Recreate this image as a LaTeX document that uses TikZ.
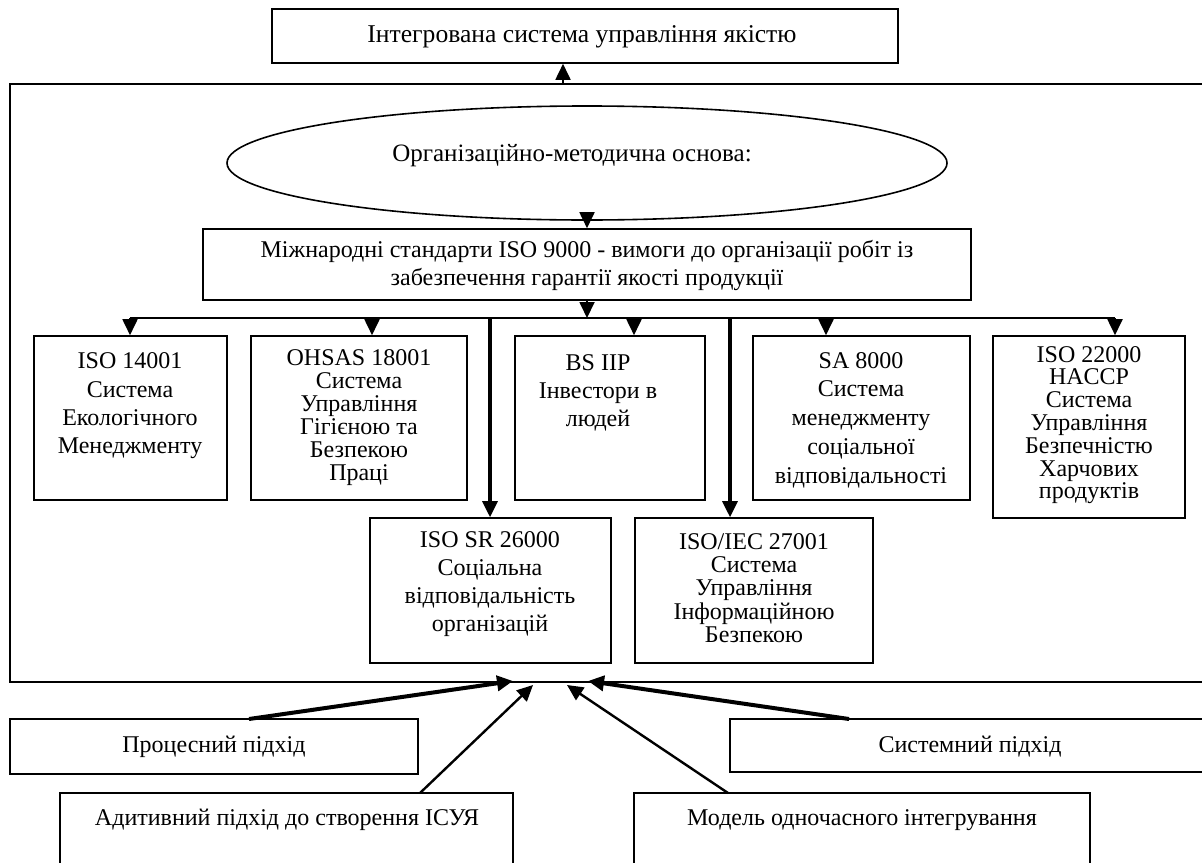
\documentclass[tikz,border=0pt]{standalone}
\usepackage{fontspec}
\setmainfont{Liberation Serif}
\usetikzlibrary{arrows.meta,shapes.geometric}
\newcommand{\fs}[1]{\fontsize{12}{#1}\selectfont\lineskiplimit=-30pt\relax}
\tikzset{
  bxs/.style={draw, line width=0.8pt, inner sep=0pt},
  txtbase/.style={align=center, inner sep=0pt},
  arr/.style={line width=0.9pt, -{Triangle[length=8pt,width=7.5pt]}},
  arrthick/.style={line width=2pt, -{Triangle[length=8pt,width=7.5pt]}},
  arrmid/.style={line width=1.2pt, -{Triangle[length=8pt,width=7.5pt]}},
  vline/.style={line width=1.6pt, -{Triangle[length=8pt,width=7.5pt]}},
}
\newcommand{\mkbox}[5]{\node[bxs, minimum width={(#4-#2)*0.5pt}, minimum height={(#5-#3)*0.5pt}] (#1) at ({(#2+#4)/2},{(#3+#5)/2}) {};}
\begin{document}
\begin{tikzpicture}[x=0.5pt,y=-0.5pt]
\useasboundingbox (0,0) rectangle (1202,862);
% boxes
\mkbox{top}{272}{9}{898}{63}
\mkbox{outer}{10}{84}{1220}{682}
\node[draw, ellipse, line width=0.8pt, minimum width=360pt, minimum height=57pt, inner sep=0pt] (ell) at (587,163) {};
\mkbox{iso9000}{203}{229}{971}{300}
\mkbox{b1}{34}{336}{227}{500}
\mkbox{b2}{251}{336}{467}{500}
\mkbox{b3}{515}{336}{705}{500}
\mkbox{b4}{753}{336}{970}{500}
\mkbox{b5}{993}{336}{1185}{518}
\mkbox{b6}{370}{518}{611}{663}
\mkbox{b7}{635}{518}{873}{663}
\mkbox{proc}{10}{719}{418}{774}
\mkbox{sys}{730}{719}{1220}{772}
\mkbox{adit}{60}{793}{513}{900}
\mkbox{model}{634}{793}{1090}{900}
% texts
\node[txtbase, font={\fontsize{12.8}{14}\selectfont}] (ttop) at (582,37) {Інтегрована система управління якістю};
\node[txtbase, font={\fontsize{12.5}{14}\selectfont}] (tell) at (572,156) {Організаційно-методична основа:};
\node[txtbase, font=\fs{14}] (t9000) at (587,265) {Міжнародні стандарти ISO 9000 - вимоги до організації робіт із\\забезпечення гарантії якості продукції};
\node[txtbase, font=\fs{14.15}] (t1) at (130,406) {ISO 14001\\Система\\Екологічного\\Менеджменту};
\node[txtbase, font=\fs{11.5}] (t2) at (359,418) {OHSAS 18001\\Система\\Управління\\Гігієною та\\Безпекою\\Праці};
\node[txtbase, font=\fs{14}] (t3) at (598,393) {BS IIP\\Інвестори в\\людей};
\node[txtbase, font=\fs{14.35}] (t4) at (861,420) {SA 8000\\Система\\менеджменту\\соціальної\\відповідальності};
\node[txtbase, font=\fs{11.4}] (t5) at (1089,425) {ISO 22000\\HACCP\\Система\\Управління\\Безпечністю\\Харчових\\продуктів};
\node[txtbase, font=\fs{14.1}] (t6) at (490,584) {ISO SR 26000\\Соціальна\\відповідальність\\організацій};
\node[txtbase, font=\fs{11.6}] (t7) at (754,588) {ISO/IEC 27001\\Система\\Управління\\Інформаційною\\Безпекою};
\node[txtbase, font=\fs{14}] (tproc) at (214,747) {Процесний підхід};
\node[txtbase, font=\fs{14}] (tsys) at (970,747) {Системний підхід};
\node[txtbase, font=\fs{14}] (tadit) at (287,820) {Адитивний підхід до створення ІСУЯ};
\node[txtbase, font=\fs{14}] (tmodel) at (862,820) {Модель одночасного інтегрування};
% connectors
\coordinate (a0) at (563,84);
\draw[arr] (a0) -- (a0 |- top.south);
\draw[arr] (ell.south) -- (iso9000.north);
\coordinate (dc) at (587,318);
\draw[arr] (iso9000.south) -- (dc);
\coordinate (d1) at (130,318);
\coordinate (d2) at (372,318);
\coordinate (d3) at (634,318);
\coordinate (d4) at (826,318);
\coordinate (d5) at (1115,318);
\coordinate (d6) at (490,318);
\coordinate (d7) at (730,318);
\draw[line width=1pt] (d1) -- (d5);
\draw[arr] (d1) -- (d1 |- b1.north);
\draw[arr] (d2) -- (d2 |- b2.north);
\draw[arr] (d3) -- (d3 |- b3.north);
\draw[arr] (d4) -- (d4 |- b4.north);
\draw[arr] (d5) -- (d5 |- b5.north);
\draw[vline] (d6) -- (d6 |- b6.north);
\draw[vline] (d7) -- (d7 |- b7.north);
% bottom arrows
\coordinate (s1) at (249,719);
\coordinate (e1) at (513,681);
\coordinate (s2) at (420,793);
\coordinate (e2) at (533,685);
\coordinate (s3) at (728,793);
\coordinate (e3) at (567,685);
\coordinate (s4) at (849,719);
\coordinate (e4) at (588,681);
\draw[arrthick] (s1) -- (e1);
\draw[arrmid] (s2) -- (e2);
\draw[arrmid] (s3) -- (e3);
\draw[arrthick] (s4) -- (e4);
\end{tikzpicture}
\end{document}
